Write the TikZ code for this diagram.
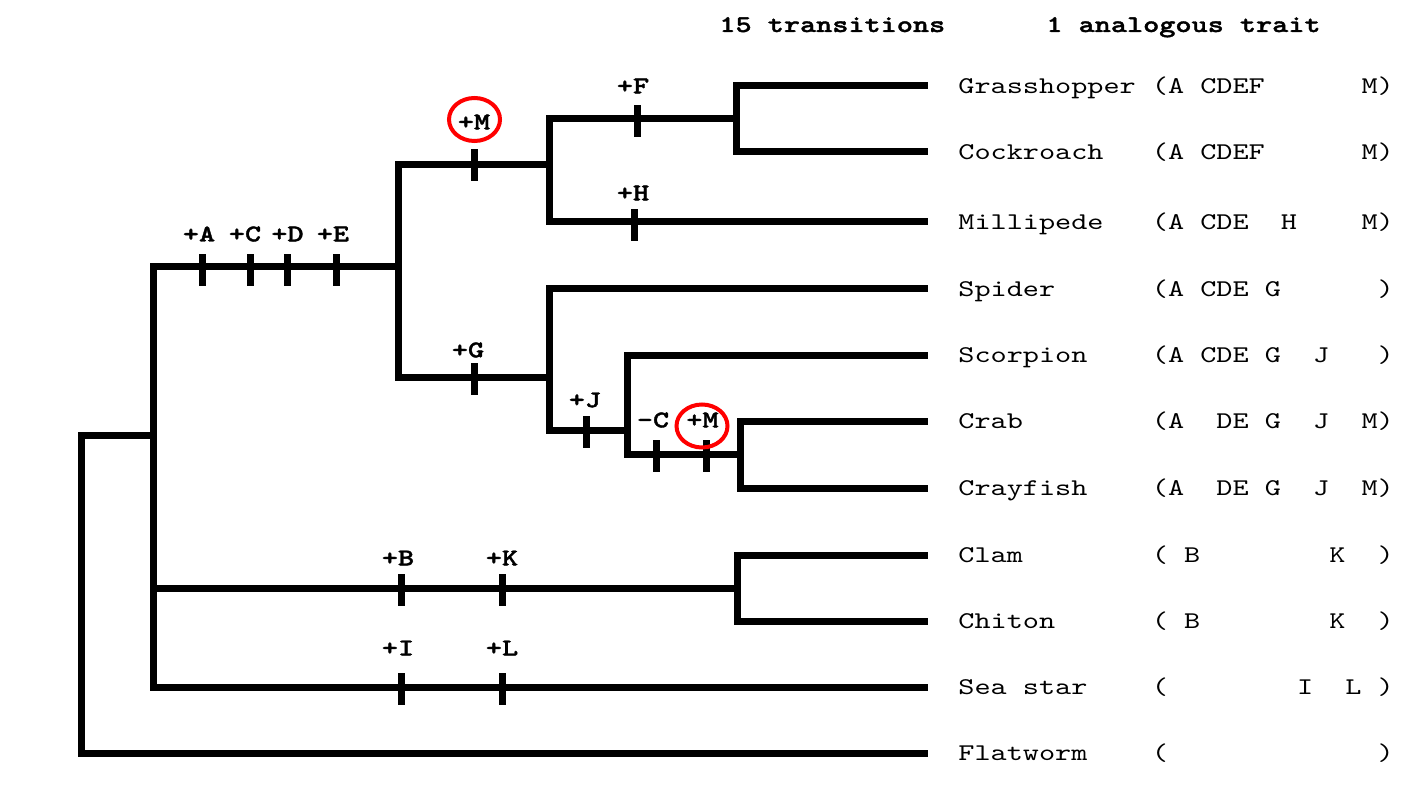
\documentclass[tikz,border=0pt]{standalone}
\usepackage{fontspec}
\newfontfamily\cmono{lmmono10-regular}[Extension=.otf, BoldFont=lmmonolt10-bold, BoldFeatures={FakeBold=1.5}, FakeStretch=1.28]
\usetikzlibrary{shapes.geometric}
\newcommand\taxfont{\cmono\fontsize{12}{14}\selectfont}
\newcommand\trlabfont{\cmono\bfseries\fontsize{12}{14}\selectfont}
\newcommand\hdfont{\cmono\bfseries\fontsize{12}{14}\selectfont}
\begin{document}
\begin{tikzpicture}[x=0.5pt,y=-0.5pt,
  branch/.style={line width=3.5pt,line join=miter},
  tickmark/.style={fill=black,draw=none,inner sep=0pt,minimum width=3.5pt,minimum height=16pt},
  lbl/.style={font=\trlabfont,inner sep=0pt},
  ring/.style={draw=red,line width=2pt,ellipse,inner sep=0pt,minimum width=25.5pt,minimum height=21.5pt},
  taxon/.style={anchor=base west,inner sep=0pt,font=\taxfont},
  head/.style={anchor=base west,inner sep=0pt,font=\hdfont}]
\useasboundingbox[fill=white] (0,0) rectangle (1422,796);

% header
\node[head] (h1) at (719,32) {15 transitions};
\node[head] (h2) at (1046,32) {1 analogous trait};

% internal nodes
\coordinate (R)  at (81,594);
\coordinate (N1) at (153,435);
\coordinate (N2) at (398,267);
\coordinate (N3) at (549,165);
\coordinate (N4) at (736,119);
\coordinate (N5) at (549,377);
\coordinate (N6) at (627,430);
\coordinate (N7) at (740,454);
\coordinate (N8) at (737,588);

% leaf ends
\coordinate (Lgrass) at (928,86);
\coordinate (Lcock)  at (928,152);
\coordinate (Lmill)  at (928,222);
\coordinate (Lspid)  at (928,289);
\coordinate (Lscor)  at (928,355);
\coordinate (Lcrab)  at (928,421);
\coordinate (Lcray)  at (928,488);
\coordinate (Lclam)  at (928,555);
\coordinate (Lchit)  at (928,621);
\coordinate (Lsea)   at (928,687);
\coordinate (Lflat)  at (928,753);

% branches
\draw[branch] (R) |- (N1);
\draw[branch] (R) |- (Lflat);
\draw[branch] (N1) |- (N2);
\draw[branch] (N1) |- (N8);
\draw[branch] (N1) |- (Lsea);
\draw[branch] (N2) |- (N3);
\draw[branch] (N2) |- (N5);
\draw[branch] (N3) |- (N4);
\draw[branch] (N3) |- (Lmill);
\draw[branch] (N4) |- (Lgrass);
\draw[branch] (N4) |- (Lcock);
\draw[branch] (N5) |- (Lspid);
\draw[branch] (N5) |- (N6);
\draw[branch] (N6) |- (Lscor);
\draw[branch] (N6) |- (N7);
\draw[branch] (N7) |- (Lcrab);
\draw[branch] (N7) |- (Lcray);
\draw[branch] (N8) |- (Lclam);
\draw[branch] (N8) |- (Lchit);

% tick marks
\node[tickmark] (tA)  at (202.5,270) {};
\node[tickmark] (tC)  at (250,270) {};
\node[tickmark] (tD)  at (287,270) {};
\node[tickmark] (tE)  at (336,270) {};
\node[tickmark] (tM1) at (474,165) {};
\node[tickmark] (tF)  at (637,121) {};
\node[tickmark] (tH)  at (634,225) {};
\node[tickmark] (tG)  at (474,379) {};
\node[tickmark] (tJ)  at (586,432) {};
\node[tickmark] (tnC) at (656,456) {};
\node[tickmark] (tM2) at (706,456) {};
\node[tickmark] (tB)  at (401.5,590) {};
\node[tickmark] (tK)  at (502.5,590) {};
\node[tickmark] (tI)  at (401.5,689) {};
\node[tickmark] (tL)  at (502.5,689) {};

% transition labels
\node[lbl] (lA)  at (199,234) {+A};
\node[lbl] (lC)  at (245,234) {+C};
\node[lbl] (lD)  at (287.5,234) {+D};
\node[lbl] (lE)  at (333,234) {+E};
\node[lbl] (lM1) at (474,122) {+M};
\node[lbl] (lF)  at (633,86) {+F};
\node[lbl] (lH)  at (633,193) {+H};
\node[lbl] (lG)  at (468,350) {+G};
\node[lbl] (lJ)  at (585,400) {+J};
\node[lbl] (lnC) at (653,420) {-C};
\node[lbl] (lM2) at (702.5,420) {+M};
\node[lbl] (lB)  at (398,558) {+B};
\node[lbl] (lK)  at (502,558) {+K};
\node[lbl] (lI)  at (398,648) {+I};
\node[lbl] (lL)  at (502,648) {+L};

% red rings
\node[ring] (r1) at (474.5,119.5) {};
\node[ring] (r2) at (702,426) {};

% taxa
\node[taxon] (tx1)  at (958,93.5)  {Grasshopper~(A~CDEF~~~~~~M)};
\node[taxon] (tx2)  at (958,159.5) {Cockroach~~~(A~CDEF~~~~~~M)};
\node[taxon] (tx3)  at (958,229.5) {Millipede~~~(A~CDE~~H~~~~M)};
\node[taxon] (tx4)  at (958,296.5) {Spider~~~~~~(A~CDE~G~~~~~~)};
\node[taxon] (tx5)  at (958,362.5) {Scorpion~~~~(A~CDE~G~~J~~~)};
\node[taxon] (tx6)  at (958,428.5) {Crab~~~~~~~~(A~~DE~G~~J~~M)};
\node[taxon] (tx7)  at (958,495.5) {Crayfish~~~~(A~~DE~G~~J~~M)};
\node[taxon] (tx8)  at (958,562.5) {Clam~~~~~~~~(~B~~~~~~~~K~~)};
\node[taxon] (tx9)  at (958,628.5) {Chiton~~~~~~(~B~~~~~~~~K~~)};
\node[taxon] (tx10) at (958,694.5) {Sea~star~~~~(~~~~~~~~I~~L~)};
\node[taxon] (tx11) at (958,760.5) {Flatworm~~~~(~~~~~~~~~~~~~)};
\end{tikzpicture}
\end{document}
